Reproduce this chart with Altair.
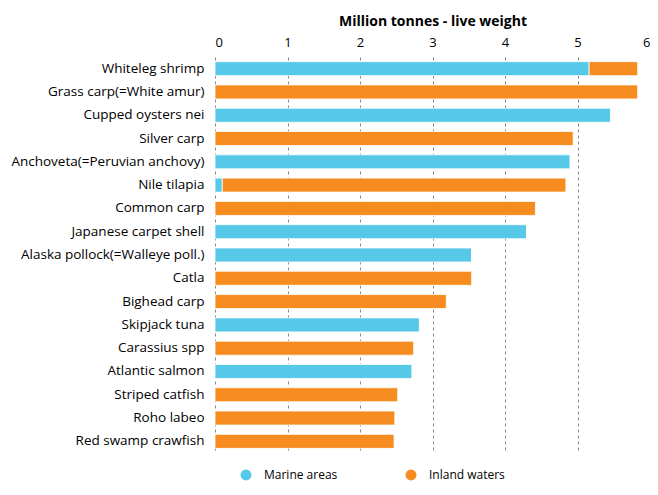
import altair as alt
import pandas as pd

species = [
    "Whiteleg shrimp", "Grass carp(=White amur)", "Cupped oysters nei", "Silver carp",
    "Anchoveta(=Peruvian anchovy)", "Nile tilapia", "Common carp", "Japanese carpet shell",
    "Alaska pollock(=Walleye poll.)", "Catla", "Bighead carp", "Skipjack tuna",
    "Carassius spp", "Atlantic salmon", "Striped catfish", "Roho labeo", "Red swamp crawfish",
]
marine = [5.16, 0, 5.46, 0, 4.90, 0.10, 0, 4.30, 3.54, 0, 0, 2.82, 0, 2.72, 0, 0, 0]
inland = [0.67, 5.83, 0, 4.94, 0, 4.74, 4.42, 0, 0, 3.54, 3.19, 0, 2.74, 0, 2.52, 2.48, 2.47]

rows = []
for s, m, i in zip(species, marine, inland):
    rows.append({"species": s, "area": "Marine areas", "value": m, "ord": 0})
    rows.append({"species": s, "area": "Inland waters", "value": i, "ord": 1})
df = pd.DataFrame(rows)

FONT = "Open Sans"

chart = alt.Chart(df).mark_bar(size=14, stroke="white", strokeWidth=0.8).encode(
    y=alt.Y("species:N", sort=species, title=None,
            axis=alt.Axis(domain=False, ticks=False, labelFontSize=13.5, labelColor="#000",
                          labelFont=FONT, labelPadding=11, grid=False, labelLimit=300)),
    x=alt.X("value:Q", stack="zero",
            scale=alt.Scale(domain=[0, 6], nice=False),
            axis=alt.Axis(orient="top", title="Million tonnes - live weight", values=[0, 1, 2, 3, 4, 5, 6],
                          titleFont=FONT, titleFontSize=14, titleFontWeight="bold", titleColor="#000",
                          titlePadding=8, labelFont=FONT, labelFontSize=13, labelColor="#000",
                          labelPadding=8,
                          domain=False, ticks=False, grid=True, gridDash=[3, 3],
                          gridColor="#888", gridWidth=1)),
    color=alt.Color("area:N",
                    scale=alt.Scale(domain=["Marine areas", "Inland waters"],
                                    range=["#56C8E8", "#F68B1F"]),
                    legend=alt.Legend(title=None, orient="none", direction="horizontal",
                                      legendX=25, legendY=412, symbolType="circle",
                                      symbolSize=120, symbolStrokeWidth=0,
                                      labelFont=FONT, labelFontSize=12, labelColor="#000",
                                      columnPadding=67, labelOffset=12)),
    order=alt.Order("ord:Q"),
).properties(
    width=435, height=396,
    autosize=alt.AutoSizeParams(type="none"),
    padding={"left": 207, "top": 49, "right": 0, "bottom": 29},
).configure_view(stroke=None)

chart.save("out.html", embed_options={"renderer": "svg", "actions": False})
